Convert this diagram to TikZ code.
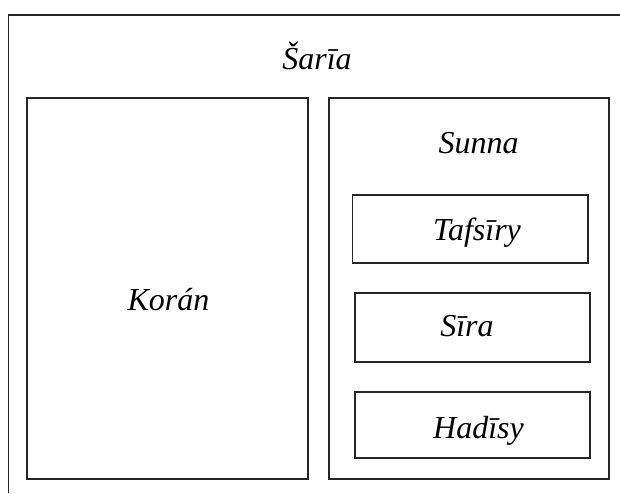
\documentclass[tikz,border=0pt]{standalone}
\usepackage{fontspec}
\setmainfont{Liberation Serif}
\begin{document}
\begin{tikzpicture}[x=1pt,y=-1pt,
  box/.style={draw=black!85,line width=1.5pt},
  lbl/.style={font=\fontsize{32}{38}\selectfont\itshape,anchor=base,inner sep=0pt}]
\useasboundingbox (0,0) rectangle (620,493);
% outer frame (cut by the picture edge)
\draw[box] (8.5,493) -- (8.5,15) -- (620,15);
\node[lbl] (saria) at (317,69) {Šarīa};
% Koran
\draw[box] (27,98) rectangle (308,479);
\node[lbl] (koran) at (168.5,310) {Korán};
% Sunna
\draw[box] (329,98) rectangle (609,479);
\node[lbl] (sunna) at (478.5,153) {Sunna};
\draw[box] (352.5,195) rectangle (588,263);
\node[lbl] (tafsiry) at (477,240) {Tafsīry};
\draw[box] (355,293) rectangle (590,362);
\node[lbl] (sira) at (467,336) {Sīra};
\draw[box] (355,392) rectangle (590,458);
\node[lbl] (hadisy) at (478.5,438) {Hadīsy};
\end{tikzpicture}
\end{document}
